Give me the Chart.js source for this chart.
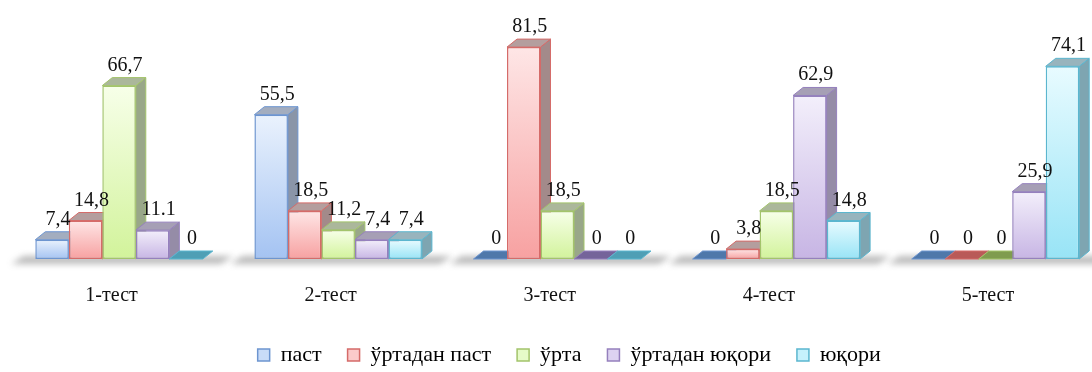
<!DOCTYPE html>
<html>
<head>
<meta charset="utf-8">
<script src="https://cdn.jsdelivr.net/npm/chart.js@4/dist/chart.umd.min.js"></script>
<style>
  html, body { margin: 0; padding: 0; background: #ffffff; overflow: hidden; }
  #wrap { position: relative; width: 1129px; height: 372px; }
</style>
</head>
<body>
<div id="wrap"><canvas id="c" width="1129" height="372"></canvas></div>
<script>
// Categories and series, kept exactly as the value labels print them
const categories = ['1-тест', '2-тест', '3-тест', '4-тест', '5-тест'];
const seriesNames = ['паст', 'ўртадан паст', 'ўрта', 'ўртадан юқори', 'юқори'];
const pastText       = ['7,4',  '55,5', '0',    '0',    '0'];
const belowMidText   = ['14,8', '18,5', '81,5', '3,8',  '0'];
const midText        = ['66,7', '11,2', '18,5', '18,5', '0'];
const aboveMidText   = ['11.1', '7,4',  '0',    '62,9', '25,9'];
const highText       = ['0',    '7,4',  '0',    '14,8', '74,1'];
const yMin = 0;
const yMax = 90;

const toNumber = s => parseFloat(String(s).replace(',', '.'));
const seriesTexts = [pastText, belowMidText, midText, aboveMidText, highText];

// Colours for each series: edge, front gradient, shaded side/top, flat (zero) tile
const palette = [
  { border: '#6d95d0', frontTop: '#eaf2fd', frontBottom: '#a4c3f2', side: '#8a95a8', top: '#a3adbf', flat: '#4f78aa', legend: '#c9dcf8' },
  { border: '#d56b69', frontTop: '#fee6e6', frontBottom: '#f7a1a1', side: '#a38a8a', top: '#b49e9e', flat: '#b95a58', legend: '#fbcaca' },
  { border: '#a3c46b', frontTop: '#f7ffe9', frontBottom: '#d2f39b', side: '#99a789', top: '#abb79b', flat: '#7f9c4f', legend: '#e6fbc8' },
  { border: '#9580bd', frontTop: '#f3effb', frontBottom: '#c7b5e4', side: '#958ca7', top: '#a69fb5', flat: '#75649a', legend: '#ddd3f1' },
  { border: '#5bb6cf', frontTop: '#e8fbff', frontBottom: '#98e4f6', side: '#7ea5b1', top: '#98b4bd', flat: '#4f9fb5', legend: '#c6f1fc' }
];

const depthX = 10;
const depthY = 8;
const serif = "'Liberation Serif', serif";

function frontFill(context, i) {
  const chart = context.chart;
  if (!chart.chartArea || context.type !== 'data' || !chart.scales.y) return palette[i].legend;
  const top = chart.scales.y.getPixelForValue(context.parsed.y);
  const base = chart.scales.y.getPixelForValue(0);
  if (base - top < 1) return palette[i].frontBottom;
  const g = chart.ctx.createLinearGradient(0, top, 0, base);
  g.addColorStop(0, palette[i].frontTop);
  g.addColorStop(1, palette[i].frontBottom);
  return g;
}

function poly(ctx, pts, fill, stroke) {
  ctx.beginPath();
  ctx.moveTo(pts[0][0], pts[0][1]);
  for (let k = 1; k < pts.length; k++) ctx.lineTo(pts[k][0], pts[k][1]);
  ctx.closePath();
  ctx.fillStyle = fill;
  ctx.fill();
  if (stroke) {
    ctx.strokeStyle = stroke;
    ctx.lineWidth = 1;
    ctx.stroke();
  }
}

// Floor shadow, side and top faces of every column (front faces are the library's bars)
const columns3d = {
  id: 'columns3d',
  beforeDatasetsDraw(chart) {
    const ctx = chart.ctx;
    const metas = chart.data.datasets.map((d, i) => chart.getDatasetMeta(i));
    const n = chart.data.labels.length;
    for (let j = 0; j < n; j++) {
      const first = metas[0].data[j];
      const last = metas[metas.length - 1].data[j];
      const l = first.x - first.width / 2;
      const r = last.x + last.width / 2;
      const b = first.base;
      ctx.save();
      ctx.filter = 'blur(3px)';
      poly(ctx, [[l - 24, b + 5], [r + 18, b + 5], [r + 30, b - 3], [l - 12, b - 3]], 'rgba(90,90,90,0.42)');
      ctx.restore();
    }
    for (let j = 0; j < n; j++) {
      metas.forEach((meta, i) => {
        const el = meta.data[j];
        const p = palette[i];
        const l = el.x - el.width / 2;
        const r = el.x + el.width / 2;
        const t = el.y;
        const b = el.base;
        ctx.save();
        if (b - t < 0.5) {
          poly(ctx, [[l, b], [r, b], [r + depthX, b - depthY], [l + depthX, b - depthY]], p.flat, p.border);
        } else {
          poly(ctx, [[r, t], [r + depthX, t - depthY], [r + depthX, b - depthY], [r, b]], p.side, p.border);
          poly(ctx, [[l, t], [r, t], [r + depthX, t - depthY], [l + depthX, t - depthY]], p.top, p.border);
        }
        ctx.restore();
      });
    }
  },
  afterDatasetsDraw(chart) {
    const ctx = chart.ctx;
    ctx.save();
    ctx.font = '20px ' + serif;
    ctx.fillStyle = '#111111';
    ctx.textAlign = 'center';
    ctx.textBaseline = 'alphabetic';
    chart.data.datasets.forEach((ds, i) => {
      chart.getDatasetMeta(i).data.forEach((el, j) => {
        ctx.fillText(ds.texts[j], el.x + 6, el.y - 15);
      });
    });
    ctx.restore();
  }
};

function build() {
  const datasets = seriesNames.map((name, i) => ({
    label: name,
    data: seriesTexts[i].map(toNumber),
    texts: seriesTexts[i],
    backgroundColor: ctx => frontFill(ctx, i),
    borderColor: palette[i].border,
    borderWidth: ctx => (ctx.raw === 0 ? 0 : 1.5),
    borderSkipped: false,
    categoryPercentage: 0.7645,
    barPercentage: 1
  }));

  new Chart(document.getElementById('c'), {
    type: 'bar',
    data: { labels: categories, datasets },
    plugins: [columns3d],
    options: {
      responsive: false,
      animation: false,
      devicePixelRatio: 1,
      layout: { padding: { left: 9.5, right: 0, top: 25, bottom: -4 } },
      scales: {
        x: {
          offset: true,
          grid: { display: false, drawTicks: false },
          border: { display: false },
          ticks: {
            color: '#111111',
            font: { family: serif, size: 20 },
            padding: 25,
            labelOffset: -7.5,
            maxRotation: 0,
            autoSkip: false
          },
          afterFit(scale) { scale.height = 59; }
        },
        y: {
          position: 'right',
          min: yMin,
          max: yMax,
          grid: { display: false, drawTicks: false },
          border: { display: false },
          ticks: { display: false },
          afterFit(scale) { scale.width = 24; }
        }
      },
      plugins: {
        tooltip: { enabled: false },
        legend: {
          position: 'bottom',
          labels: {
            boxWidth: 12,
            boxHeight: 12,
            padding: 26,
            color: '#111111',
            font: { family: serif, size: 22 },
            generateLabels(chart) {
              return chart.data.datasets.map((ds, i) => ({
                text: ds.label,
                fillStyle: palette[i].legend,
                strokeStyle: palette[i].border,
                lineWidth: 1.5,
                hidden: false,
                datasetIndex: i
              }));
            }
          }
        }
      }
    }
  });
}

// Make sure the serif face is ready before the canvas text is drawn
Promise.all([
  document.fonts.load("20px 'Liberation Serif'", '1-тест ўртадан юқори 66,7'),
  document.fonts.load("22px 'Liberation Serif'", 'ўртадан юқори')
]).catch(() => {}).then(build);
</script>
</body>
</html>
